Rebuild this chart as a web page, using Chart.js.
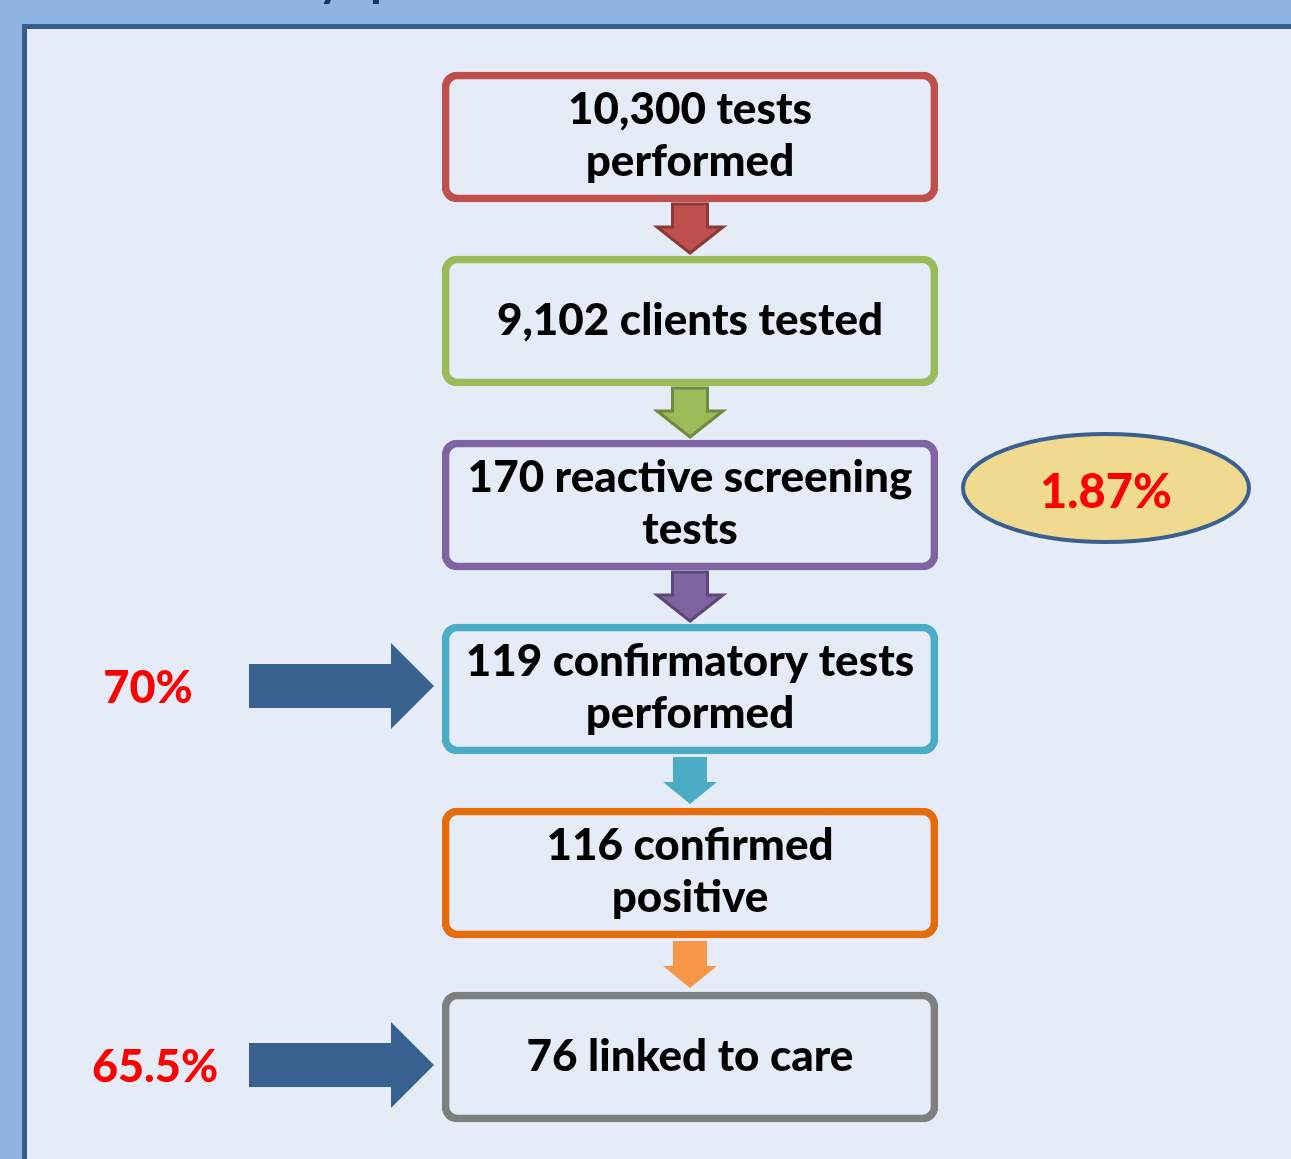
<!DOCTYPE html>
<html>
<head>
<meta charset="utf-8">
<script src="https://cdn.jsdelivr.net/npm/chart.js@4"></script>
<style>
html,body{margin:0;padding:0;background:#8EB4E3;overflow:hidden}
canvas{display:block}
</style>
</head>
<body>
<canvas id="flow" width="1291" height="1159"></canvas>
<script>
// testing cascade, one box per stage (top to bottom)
var stageNames = ['tests performed', 'clients tested', 'reactive screening tests', 'confirmatory tests performed', 'confirmed positive', 'linked to care'];
var stageCounts = [10300, 9102, 170, 119, 116, 76];
var stageLines = [
    ['10,300 tests', 'performed'],
    ['9,102 clients tested'],
    ['170 reactive screening', 'tests'],
    ['119 confirmatory tests', 'performed'],
    ['116 confirmed', 'positive'],
    ['76 linked to care']
];
var stageColors = ['#C0504D', '#9BBB59', '#8064A2', '#4BACC6', '#E46C0A', '#7F7F7F'];

// rates called out beside a stage
var rateLabels = ['1.87%', '70%', '65.5%'];
var rateStages = [2, 3, 5];

// down arrow colours between stages (fill / outline)
var arrowFills = ['#C0504D', '#9BBB59', '#8064A2', '#4BACC6', '#F79646'];
var arrowLines = ['#8C3836', '#71893F', '#5C4776', null, null];

var FONT = 'Lato, "Open Sans", sans-serif';

function downArrow(ctx, cx, top, tip, shaftW, headW, headLen, fill, line){
    var hy = tip - headLen;
    ctx.beginPath();
    ctx.moveTo(cx - shaftW/2, top);
    ctx.lineTo(cx + shaftW/2, top);
    ctx.lineTo(cx + shaftW/2, hy);
    ctx.lineTo(cx + headW/2, hy);
    ctx.lineTo(cx, tip);
    ctx.lineTo(cx - headW/2, hy);
    ctx.lineTo(cx - shaftW/2, hy);
    ctx.closePath();
    ctx.fillStyle = fill;
    ctx.fill();
    if (line) {
        ctx.lineWidth = 3;
        ctx.lineJoin = 'miter';
        ctx.strokeStyle = line;
        ctx.stroke();
    }
}

function rightArrow(ctx, left, tipX, cy, shaftH, headH, headLen, fill){
    var hx = tipX - headLen;
    ctx.beginPath();
    ctx.moveTo(left, cy - shaftH/2);
    ctx.lineTo(hx, cy - shaftH/2);
    ctx.lineTo(hx, cy - headH/2);
    ctx.lineTo(tipX, cy);
    ctx.lineTo(hx, cy + headH/2);
    ctx.lineTo(hx, cy + shaftH/2);
    ctx.lineTo(left, cy + shaftH/2);
    ctx.closePath();
    ctx.fillStyle = fill;
    ctx.fill();
}

var panelPlugin = {
    id: 'panel',
    beforeDraw: function(chart){
        var ctx = chart.ctx, W = chart.width, H = chart.height;
        ctx.save();
        ctx.fillStyle = '#8EB4E3';
        ctx.fillRect(0, 0, W, H);
        // bits of the cut-off heading
        ctx.fillStyle = '#17375E';
        ctx.font = 'bold 48px ' + FONT;
        ctx.textBaseline = 'alphabetic';
        ctx.fillText('y', 318, -4);
        ctx.fillText('p', 370, -4);
        ctx.fillStyle = '#E5ECF7';
        ctx.fillRect(25, 27, W, H);
        ctx.strokeStyle = '#385D8A';
        ctx.lineWidth = 5;
        ctx.strokeRect(24.5, 26.5, W + 50, H + 50);
        ctx.restore();
    }
};

var flowPlugin = {
    id: 'flow',
    afterDatasetsDraw: function(chart){
        var ctx = chart.ctx;
        var xs = chart.scales.x, ys = chart.scales.y;
        var cx = xs.getPixelForValue(0.5);
        var left = xs.getPixelForValue(0), right = xs.getPixelForValue(1);
        var half = 65;
        ctx.save();

        // arrows between boxes
        for (var i = 0; i < stageNames.length - 1; i++) {
            var b = ys.getPixelForValue(i) + half;
            var t = ys.getPixelForValue(i + 1) - half;
            if (arrowLines[i]) downArrow(ctx, cx, b + 2, t - 3, 35, 66, 26, arrowFills[i], arrowLines[i]);
            else downArrow(ctx, cx, b + 3, t - 4, 34, 54, 22, arrowFills[i], null);
        }

        // box text
        ctx.fillStyle = '#000';
        ctx.textAlign = 'center';
        ctx.textBaseline = 'alphabetic';
        ctx.font = '900 44px ' + FONT;
        stageLines.forEach(function(lines, k){
            var cy = ys.getPixelForValue(k);
            if (lines.length === 1) ctx.fillText(lines[0], cx, cy + 14);
            else {
                ctx.fillText(lines[0], cx, cy - 13);
                ctx.fillText(lines[1], cx, cy + 39);
            }
        });

        // rate callouts
        rateLabels.forEach(function(lbl, k){
            var cy = ys.getPixelForValue(rateStages[k]);
            if (k === 0) {
                var ex = right + 168, ey = cy - 17;
                ctx.beginPath();
                ctx.ellipse(ex, ey, 143, 54, 0, 0, Math.PI * 2);
                ctx.fillStyle = '#F0DA90';
                ctx.fill();
                ctx.lineWidth = 4;
                ctx.strokeStyle = '#3A6090';
                ctx.stroke();
                ctx.fillStyle = '#FF0000';
                ctx.font = '900 47px ' + FONT;
                ctx.textAlign = 'center';
                ctx.fillText(lbl, ex, ey + 20);
            } else {
                var ay = k === 1 ? cy - 3 : cy + 8;
                rightArrow(ctx, 249, left - 8, ay, 44, 86, 43, '#38618F');
                ctx.fillStyle = '#FF0000';
                ctx.font = '900 45px ' + FONT;
                ctx.textAlign = 'center';
                ctx.fillText(lbl, k === 1 ? 148 : 155, ay + 17);
            }
        });
        ctx.restore();
    }
};

new Chart(document.getElementById('flow').getContext('2d'), {
    type: 'bar',
    data: {
        labels: stageNames,
        datasets: [{
            label: 'Cascade',
            data: stageCounts.map(function(){ return [0, 1]; }),
            backgroundColor: 'rgba(0,0,0,0)',
            borderColor: stageColors,
            borderWidth: 7,
            borderRadius: 15,
            borderSkipped: false,
            barThickness: 130
        }]
    },
    options: {
        indexAxis: 'y',
        responsive: false,
        animation: false,
        devicePixelRatio: 1,
        layout: { padding: { left: 442, right: 353, top: 45, bottom: 10 } },
        scales: {
            x: { type: 'linear', min: 0, max: 1, display: false },
            y: { type: 'category', display: false, offset: true }
        },
        plugins: { legend: { display: false }, tooltip: { enabled: false } }
    },
    plugins: [panelPlugin, flowPlugin]
});
</script>
</body>
</html>
